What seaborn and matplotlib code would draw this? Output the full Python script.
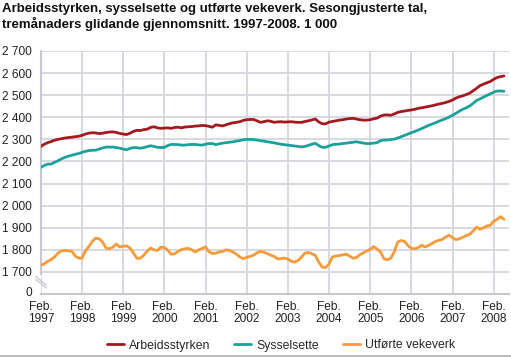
import matplotlib
matplotlib.use("Agg")
import matplotlib.pyplot as plt
from matplotlib.lines import Line2D
from matplotlib.ticker import MultipleLocator, FixedLocator
import matplotlib.transforms as mtransforms
import numpy as np
import pandas as pd
import seaborn as sns

# Monthly values, Feb 1997 - May 2008 (1 000)
arbeidsstyrken = [
    2268, 2278, 2285, 2290, 2296, 2300, 2303, 2306, 2308, 2310, 2312, 2314,
    2318, 2324, 2328, 2330, 2329, 2326, 2328, 2331, 2333, 2334, 2331, 2327,
    2324, 2322, 2328, 2336, 2341, 2340, 2344, 2346, 2354, 2357, 2352, 2350,
    2351, 2352, 2350, 2354, 2355, 2352, 2356, 2357, 2358, 2360, 2361, 2363,
    2362, 2359, 2355, 2366, 2363, 2361, 2366, 2371, 2375, 2377, 2380, 2386,
    2389, 2390, 2390, 2384, 2377, 2380, 2384, 2382, 2377, 2379, 2380, 2378,
    2379, 2380, 2378, 2377, 2377, 2381, 2384, 2388, 2392, 2379, 2371, 2370,
    2378, 2381, 2384, 2387, 2389, 2392, 2394, 2395, 2392, 2389, 2387, 2387,
    2389, 2393, 2396, 2405, 2410, 2411, 2409, 2415, 2422, 2426, 2428, 2431,
    2433, 2436, 2440, 2443, 2446, 2449, 2452, 2456, 2460, 2463, 2467, 2472,
    2478, 2487, 2493, 2497, 2503, 2509, 2520, 2531, 2543, 2550, 2556, 2562,
    2572, 2580, 2584, 2587,
]
sysselsette = [
    2173, 2182, 2188, 2188, 2196, 2203, 2212, 2218, 2224, 2228, 2232, 2236,
    2241, 2246, 2249, 2251, 2251, 2256, 2261, 2265, 2265, 2265, 2263, 2260,
    2256, 2253, 2259, 2263, 2262, 2260, 2263, 2267, 2271, 2268, 2264, 2263,
    2264, 2272, 2277, 2277, 2276, 2274, 2274, 2276, 2277, 2277, 2275, 2274,
    2278, 2281, 2281, 2276, 2280, 2283, 2285, 2287, 2289, 2292, 2295, 2298,
    2300, 2300, 2299, 2297, 2294, 2292, 2289, 2287, 2284, 2281, 2278, 2276,
    2274, 2272, 2270, 2268, 2266, 2268, 2273, 2278, 2282, 2272, 2264, 2264,
    2270, 2276, 2278, 2279, 2281, 2283, 2285, 2287, 2289, 2286, 2283, 2281,
    2281, 2283, 2285, 2294, 2297, 2297, 2299, 2301, 2306, 2312, 2318, 2324,
    2330, 2336, 2342, 2349, 2356, 2363, 2369, 2375, 2382, 2388, 2394, 2401,
    2409, 2418, 2428, 2436, 2443, 2451, 2463, 2476, 2483, 2491, 2499, 2506,
    2514, 2519, 2519, 2518,
]
utforte_vekeverk = [
    1730, 1737, 1748, 1756, 1768, 1785, 1795, 1797, 1795, 1794, 1772, 1763,
    1762, 1795, 1815, 1838, 1853, 1850, 1835, 1808, 1805, 1812, 1826, 1813,
    1816, 1818, 1808, 1785, 1762, 1762, 1775, 1795, 1808, 1800, 1797, 1812,
    1810, 1798, 1780, 1782, 1793, 1801, 1805, 1806, 1800, 1790, 1800, 1806,
    1813, 1792, 1783, 1785, 1790, 1793, 1800, 1797, 1790, 1780, 1768, 1760,
    1766, 1770, 1776, 1786, 1793, 1789, 1783, 1776, 1770, 1759, 1760, 1763,
    1758, 1748, 1744, 1752, 1768, 1785, 1788, 1782, 1775, 1745, 1722, 1720,
    1735, 1768, 1772, 1774, 1777, 1780, 1772, 1762, 1765, 1778, 1786, 1795,
    1802, 1815, 1803, 1791, 1760, 1755, 1762, 1790, 1835, 1842, 1838, 1820,
    1806, 1805, 1810, 1820, 1813, 1820, 1828, 1838, 1843, 1847, 1858, 1866,
    1855, 1846, 1850, 1857, 1865, 1870, 1885, 1903, 1893, 1900, 1908, 1910,
    1930, 1938, 1950, 1938,
]
series_names = ["Arbeidsstyrken", "Sysselsette", "Utførte vekeverk"]
year_labels = [f"Feb.\n{y}" for y in range(1997, 2009)]
y_ticks = list(range(1600, 2701, 100))
y_tick_labels = ["0"] + [f"{v // 1000} {v % 1000:03d}" for v in y_ticks[1:]]

title = ("Arbeidsstyrken, sysselsette og utførte vekeverk. Sesongjusterte tal,\n"
         "tremånaders glidande gjennomsnitt. 1997-2008. 1 000")

colors = ["#A3191F", "#1AA19B", "#F79A3A"]

n = len(arbeidsstyrken)
month = np.arange(n)
df = pd.DataFrame({
    "month": np.concatenate([month] * 3),
    "value": arbeidsstyrken + sysselsette + utforte_vekeverk,
    "serie": np.repeat(series_names, n),
})

sns.set_style("white")
plt.rcParams["font.family"] = ["Liberation Sans", "DejaVu Sans"]

fig = plt.figure(figsize=(5.11, 3.57), dpi=100)
W, H = 511, 357
ax = fig.add_axes([40.5 / W, 1 - 294 / H, (509 - 40.5) / W, (294 - 51) / H])

grid_c = "#D6D6DE"
sns.lineplot(data=df, x="month", y="value", hue="serie", palette=colors,
             hue_order=series_names, linewidth=2.0, ax=ax, legend=False,
             zorder=3)

ax.set_xlim(-0.1, (509 - 40.5) / (41.2 / 12))
ax.set_ylim(1600, 2700)
ax.xaxis.set_major_locator(FixedLocator(np.arange(0, 12 * len(year_labels), 12)))
ax.set_xticklabels(year_labels, linespacing=1.0)
ax.xaxis.set_minor_locator(MultipleLocator(1))
ax.set_yticks(y_ticks)
ax.set_yticklabels(y_tick_labels)
ax.set_xlabel("")
ax.set_ylabel("")

ax.grid(True, which="major", color=grid_c, linewidth=1.3, zorder=0)
for s in ["top", "right"]:
    ax.spines[s].set_visible(False)
ax.spines["left"].set_color("#C8C8D0")
ax.spines["left"].set_linewidth(1.5)
ax.spines["left"].set_bounds(1690, 2700)
ax.spines["bottom"].set_color("#C8C8D0")
ax.spines["bottom"].set_linewidth(1.5)

ax.tick_params(axis="y", length=0, pad=6, labelsize=8.6, labelcolor="#222222")
ax.tick_params(axis="x", which="major", length=0, pad=5, labelsize=8.6,
               labelcolor="#222222")
ax.tick_params(axis="x", which="minor", direction="in", length=5,
               color="#C8C8D0", width=1)
# lift the "0" label slightly so it clears the first month label
zero_lbl = ax.get_yticklabels()[0]
zero_lbl.set_transform(zero_lbl.get_transform() +
                       mtransforms.ScaledTranslation(0, 2 / 72, fig.dpi_scale_trans))

# axis break marks
for dy in (0.0, 0.012):
    ax.plot([-0.01, 0.012], [0.06 + dy, 0.025 + dy], transform=ax.transAxes,
            color="#C8C8D0", lw=1.0, clip_on=False)

fig.text(2 / W, 1 - 3 / H, title, ha="left", va="top", fontsize=9.5,
         fontweight="bold", color="#111111", linespacing=1.2)

handles = [Line2D([0], [0], color=c, lw=2) for c in colors]
fig.legend(handles, series_names, loc="center", bbox_to_anchor=(0.55, 1 - 345.5 / H),
           ncol=3, frameon=False, fontsize=8.8, handlelength=1.4,
           columnspacing=1.9, handletextpad=0.45)

fig.add_artist(Line2D([0, 1], [1 - 355.5 / H] * 2, color="#BBBBBB", lw=1.5))

fig.savefig("out.png", dpi=100)
